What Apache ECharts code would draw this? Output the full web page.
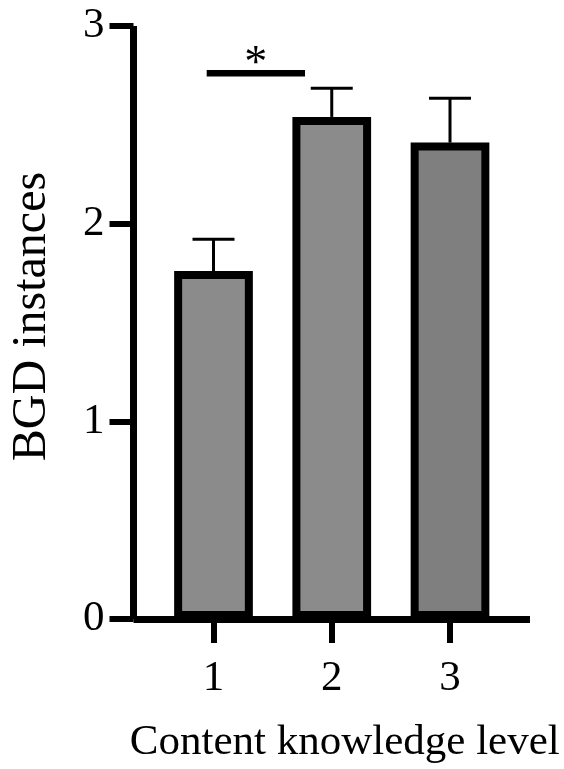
<!DOCTYPE html>
<html>
<head>
<meta charset="utf-8">
<script src="https://cdn.jsdelivr.net/npm/echarts@6/dist/echarts.min.js"></script>
<style>
  html, body { margin: 0; padding: 0; background: #ffffff; }
  #chart { width: 564px; height: 769px; }
</style>
</head>
<body>
<div id="chart"></div>
<script>
// Knowledge levels on the x axis
const levels = [1, 2, 3];
// Mean BGD instances per level
const means = [1.76, 2.54, 2.41];
// Upper end of each error bar (mean + SEM)
const upper = [1.921, 2.685, 2.634];
// Bar fill per level
const fills = ['#8b8b8b', '#8b8b8b', '#7f7f7f'];
// Significance bracket: [from level, to level, height]
const sigBracket = [0.9425, 1.774, 2.761];
const sigLabel = '*';
// Y tick range
const yTicks = [0, 1, 2, 3];

const FONT = "'Liberation Serif', 'Times New Roman', serif";

const chart = echarts.init(document.getElementById('chart'), null, { renderer: 'canvas' });

const barData = levels.map((lv, i) => ({
  value: [lv, means[i]],
  itemStyle: { color: fills[i] }
}));
const errData = levels.map((lv, i) => [lv, means[i], upper[i]]);

chart.setOption({
  animation: false,
  backgroundColor: '#ffffff',
  grid: {
    left: 133.5, right: 34, top: 26, bottom: 150,
    containLabel: false, outerBoundsMode: 'none'
  },
  xAxis: {
    type: 'value',
    min: 0.3235, max: 3.6765,
    z: 5,
    splitLine: { show: false },
    axisLine: { show: true, onZero: false, lineStyle: { color: '#000', width: 7, cap: 'butt' } },
    axisTick: { show: true, customValues: levels, length: 24, lineStyle: { color: '#000', width: 6 } },
    axisLabel: {
      customValues: levels, margin: 38,
      color: '#000', fontSize: 43, fontFamily: FONT
    },
    name: 'Content knowledge level',
    nameLocation: 'middle',
    nameGap: 102,
    nameTextStyle: { color: '#000', fontSize: 43, fontFamily: FONT, padding: [0, 0, 0, 26] }
  },
  yAxis: {
    type: 'value',
    min: yTicks[0], max: yTicks[yTicks.length - 1], interval: 1,
    splitLine: { show: false },
    axisLine: { show: true, lineStyle: { color: '#000', width: 7, cap: 'butt' } },
    axisTick: { show: true, length: 24, lineStyle: { color: '#000', width: 6 } },
    axisLabel: { margin: 29, color: '#000', fontSize: 43, fontFamily: FONT },
    name: 'BGD instances',
    nameLocation: 'middle',
    nameGap: 77,
    nameTextStyle: { color: '#000', fontSize: 48, fontFamily: FONT, padding: [0, 0, 0, 12] }
  },
  series: [
    {
      type: 'bar',
      data: barData,
      barWidth: 78.7,
      itemStyle: { borderColor: '#000', borderWidth: 8 },
      z: 2
    },
    {
      type: 'custom',
      data: errData,
      encode: { x: 0, y: [1, 2] },
      clip: false,
      z: 1,
      renderItem: function (params, api) {
        const lo = api.coord([api.value(0), api.value(1)]);
        const hi = api.coord([api.value(0), api.value(2)]);
        const half = 21;
        return {
          type: 'group',
          children: [
            { type: 'line', shape: { x1: lo[0], y1: lo[1], x2: hi[0], y2: hi[1] },
              style: { stroke: '#000', lineWidth: 3 } },
            { type: 'line', shape: { x1: hi[0] - half, y1: hi[1], x2: hi[0] + half, y2: hi[1] },
              style: { stroke: '#000', lineWidth: 3 } }
          ]
        };
      }
    },
    {
      type: 'custom',
      data: [sigBracket],
      encode: { x: [0, 1], y: 2 },
      clip: false,
      z: 3,
      renderItem: function (params, api) {
        const a = api.coord([api.value(0), api.value(2)]);
        const b = api.coord([api.value(1), api.value(2)]);
        return {
          type: 'group',
          children: [
            { type: 'line', shape: { x1: a[0], y1: a[1], x2: b[0], y2: b[1] },
              style: { stroke: '#000', lineWidth: 6.5 } },
            { type: 'text',
              style: { text: sigLabel, x: (a[0] + b[0]) / 2, y: a[1] + 15,
                       align: 'center', verticalAlign: 'bottom',
                       fill: '#000', fontSize: 46, fontFamily: FONT } }
          ]
        };
      }
    }
  ]
});
</script>
</body>
</html>
